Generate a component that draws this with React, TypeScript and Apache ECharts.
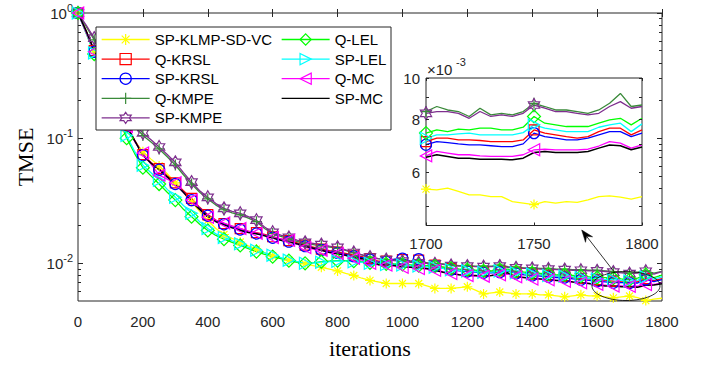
import React, { useEffect, useRef } from 'react';
import * as echarts from 'echarts';

// ---------- data ----------
const SERIES_NAMES = ['SP-KLMP-SD-VC', 'Q-KRSL', 'SP-KRSL', 'Q-KMPE', 'SP-KMPE', 'Q-LEL', 'SP-LEL', 'Q-MC', 'SP-MC'];
const SERIES_COLORS = ['#FFFF00', '#FF0000', '#0000FF', '#3A8A3A', '#7E2F8E', '#00FF00', '#00FFFF', '#FF00FF', '#000000'];

// main plot: iterations 0..1800 every 25
const MAIN_STEP = 25;
const mainSpKlmp = [1.0, 0.72, 0.5, 0.33, 0.23, 0.165, 0.12, 0.095, 0.078, 0.068,
  0.06, 0.052, 0.044, 0.037, 0.031, 0.026, 0.022, 0.019, 0.017, 0.0158,
  0.0148, 0.0138, 0.013, 0.0122, 0.0115, 0.011, 0.0106, 0.0103, 0.0099, 0.0096,
  0.0093, 0.009, 0.0087, 0.0083, 0.008, 0.0076, 0.0073, 0.0071, 0.0069, 0.0069,
  0.0069, 0.0069, 0.0069, 0.0066, 0.0063, 0.0063, 0.0063, 0.0064, 0.0065, 0.0061,
  0.0057, 0.0058, 0.0059, 0.0058, 0.0057, 0.0057, 0.0057, 0.0056, 0.0056, 0.0055,
  0.0054, 0.0055, 0.0056, 0.0055, 0.0055, 0.0054, 0.0053, 0.0054, 0.00548, 0.00531,
  0.00504, 0.00517, 0.00526];
const mainQKrsl = [1.0, 0.72, 0.5, 0.35, 0.245, 0.172, 0.126, 0.096, 0.074, 0.064,
  0.057, 0.05, 0.044, 0.038, 0.033, 0.028, 0.0245, 0.0222, 0.0208, 0.0198,
  0.0189, 0.0181, 0.0176, 0.017, 0.0163, 0.0157, 0.0152, 0.0146, 0.014, 0.0135,
  0.013, 0.0126, 0.0123, 0.012, 0.0116, 0.0113, 0.0109, 0.0104, 0.0104, 0.0107,
  0.0107, 0.0104, 0.0106, 0.0101, 0.0097, 0.0093, 0.0091, 0.0089, 0.0088, 0.0087,
  0.0086, 0.0086, 0.0087, 0.0089, 0.0085, 0.0083, 0.0082, 0.0081, 0.008, 0.0079,
  0.0079, 0.0077, 0.0076, 0.0075, 0.0074, 0.0073, 0.0072, 0.0071, 0.00709, 0.00713,
  0.00755, 0.00728, 0.00755];
const mainSpKrsl = [1.0, 0.71, 0.49, 0.345, 0.24, 0.17, 0.125, 0.095, 0.073, 0.063,
  0.056, 0.049, 0.043, 0.037, 0.032, 0.0275, 0.024, 0.0218, 0.0205, 0.0195,
  0.0186, 0.0178, 0.0173, 0.0167, 0.016, 0.0154, 0.0149, 0.0143, 0.0137, 0.0132,
  0.0128, 0.0124, 0.0121, 0.0118, 0.0114, 0.0111, 0.0107, 0.0102, 0.0103, 0.0108,
  0.0109, 0.0103, 0.0108, 0.01, 0.0095, 0.0091, 0.0089, 0.0087, 0.0086, 0.0085,
  0.0084, 0.0084, 0.0085, 0.0087, 0.0083, 0.0081, 0.008, 0.0079, 0.0078, 0.0077,
  0.0077, 0.0075, 0.0074, 0.0073, 0.0072, 0.0071, 0.007, 0.007, 0.00697, 0.00696,
  0.00742, 0.00715, 0.00742];
const mainQKmpe = [1.0, 0.78, 0.61, 0.44, 0.31, 0.22, 0.155, 0.125, 0.105, 0.093,
  0.082, 0.071, 0.061, 0.051, 0.043, 0.037, 0.0327, 0.0292, 0.0268, 0.0253,
  0.0244, 0.023, 0.0215, 0.019, 0.0173, 0.0164, 0.0157, 0.015, 0.0144, 0.0141,
  0.0138, 0.0135, 0.0132, 0.0127, 0.0121, 0.0117, 0.0112, 0.0109, 0.0107, 0.0106,
  0.0105, 0.0103, 0.0102, 0.0101, 0.01, 0.0099, 0.0097, 0.0096, 0.0096, 0.0095,
  0.0095, 0.0095, 0.0097, 0.0094, 0.0093, 0.0092, 0.0092, 0.0091, 0.0091, 0.009,
  0.009, 0.0089, 0.0089, 0.0088, 0.0088, 0.0087, 0.0086, 0.0085, 0.00834, 0.00849,
  0.00872, 0.00834, 0.00864];
const mainSpKmpe = [1.0, 0.8, 0.63, 0.45, 0.32, 0.23, 0.16, 0.13, 0.11, 0.097,
  0.085, 0.074, 0.064, 0.053, 0.0445, 0.038, 0.0337, 0.03, 0.0275, 0.026,
  0.0251, 0.0236, 0.0221, 0.0195, 0.0177, 0.0168, 0.0161, 0.0153, 0.0147, 0.0144,
  0.0141, 0.0137, 0.0134, 0.0128, 0.0122, 0.0117, 0.0112, 0.0109, 0.0107, 0.0105,
  0.0104, 0.0102, 0.0101, 0.01, 0.0099, 0.0098, 0.0096, 0.0095, 0.0095, 0.0094,
  0.0094, 0.0094, 0.0095, 0.0093, 0.0092, 0.0091, 0.0091, 0.009, 0.009, 0.0089,
  0.0089, 0.0088, 0.0088, 0.0087, 0.0087, 0.0086, 0.0085, 0.0084, 0.00826, 0.00834,
  0.00864, 0.00819, 0.00857];
const mainQLel = [1.0, 0.69, 0.47, 0.31, 0.21, 0.145, 0.1, 0.075, 0.058, 0.05,
  0.043, 0.037, 0.032, 0.027, 0.0236, 0.0205, 0.0183, 0.0167, 0.0156, 0.0147,
  0.0139, 0.0131, 0.0124, 0.0118, 0.0113, 0.0109, 0.0105, 0.0102, 0.01, 0.0101,
  0.0103, 0.0104, 0.0105, 0.0105, 0.0104, 0.0103, 0.0101, 0.01, 0.0099, 0.0099,
  0.0098, 0.0097, 0.0096, 0.0096, 0.0095, 0.0093, 0.0091, 0.009, 0.0089, 0.0088,
  0.0087, 0.0087, 0.0089, 0.009, 0.0086, 0.0085, 0.0084, 0.0083, 0.0082, 0.0081,
  0.0081, 0.008, 0.0079, 0.0078, 0.0077, 0.0077, 0.0076, 0.0075, 0.00742, 0.00762,
  0.00812, 0.00769, 0.00804];
const mainSpLel = [1.0, 0.7, 0.48, 0.32, 0.22, 0.15, 0.105, 0.078, 0.0608, 0.053,
  0.0461, 0.039, 0.0337, 0.029, 0.0251, 0.0215, 0.019, 0.0172, 0.0161, 0.0151,
  0.0143, 0.0134, 0.0127, 0.0121, 0.0116, 0.0111, 0.0106, 0.0103, 0.01, 0.0101,
  0.0102, 0.0103, 0.0104, 0.0104, 0.0103, 0.0102, 0.01, 0.0099, 0.0098, 0.0098,
  0.0097, 0.0096, 0.0095, 0.0094, 0.0093, 0.0091, 0.0089, 0.0088, 0.0087, 0.0086,
  0.0085, 0.0085, 0.0087, 0.0088, 0.0084, 0.0083, 0.0082, 0.0081, 0.008, 0.0079,
  0.0079, 0.0078, 0.0077, 0.0076, 0.0075, 0.0074, 0.0074, 0.0073, 0.00722, 0.00735,
  0.00776, 0.00748, 0.0078];
const mainQMc = [1.0, 0.7, 0.49, 0.34, 0.24, 0.17, 0.124, 0.094, 0.076, 0.062,
  0.0506, 0.047, 0.044, 0.037, 0.032, 0.027, 0.0233, 0.022, 0.021, 0.0198,
  0.019, 0.018, 0.0174, 0.0168, 0.0161, 0.0157, 0.0153, 0.0142, 0.0134, 0.013,
  0.0127, 0.0123, 0.012, 0.0115, 0.011, 0.0106, 0.01, 0.0097, 0.0097, 0.0095,
  0.0093, 0.0093, 0.0091, 0.009, 0.0088, 0.0086, 0.0083, 0.0081, 0.008, 0.0079,
  0.0079, 0.008, 0.0081, 0.0082, 0.0078, 0.0077, 0.0075, 0.0075, 0.0074, 0.0073,
  0.0072, 0.0071, 0.007, 0.0069, 0.0068, 0.0067, 0.0066, 0.0066, 0.00656, 0.00656,
  0.00678, 0.0068, 0.00696];
const mainSpMc = [1.0, 0.72, 0.5, 0.34, 0.24, 0.17, 0.125, 0.095, 0.073, 0.063,
  0.056, 0.049, 0.043, 0.037, 0.031, 0.027, 0.0235, 0.0215, 0.0203, 0.0192,
  0.0183, 0.0176, 0.0172, 0.0166, 0.0159, 0.0153, 0.0148, 0.0143, 0.0137, 0.0132,
  0.0127, 0.0122, 0.0119, 0.0116, 0.0112, 0.0109, 0.0104, 0.0098, 0.0097, 0.0096,
  0.0094, 0.0093, 0.0092, 0.0091, 0.0088, 0.0085, 0.0083, 0.0081, 0.008, 0.008,
  0.0079, 0.008, 0.0082, 0.0084, 0.0078, 0.0077, 0.0076, 0.0075, 0.0074, 0.0073,
  0.0073, 0.0071, 0.007, 0.0069, 0.0067, 0.0066, 0.0066, 0.0065, 0.0065, 0.00644,
  0.00668, 0.00672, 0.00688];

// inset: iterations 1700..1800 every 5
const INSET_START = 1700;
const INSET_STEP = 5;
const insetSpKlmp = [0.00548, 0.00546, 0.00551, 0.00541, 0.00531, 0.00531, 0.00526, 0.00526, 0.00512, 0.00508, 0.00504, 0.00512, 0.00508, 0.00512, 0.0051, 0.00517, 0.00526, 0.00528, 0.00525, 0.00519, 0.00526];
const insetQKrsl = [0.00709, 0.00722, 0.00722, 0.00715, 0.00715, 0.00713, 0.00709, 0.00709, 0.00709, 0.00715, 0.00755, 0.00742, 0.00735, 0.00728, 0.00722, 0.00728, 0.00748, 0.00762, 0.00762, 0.00735, 0.00755];
const insetSpKrsl = [0.00697, 0.00709, 0.00705, 0.007, 0.00696, 0.00696, 0.00693, 0.0069, 0.0069, 0.007, 0.00742, 0.00728, 0.00722, 0.00715, 0.00715, 0.00722, 0.00735, 0.00748, 0.00748, 0.00728, 0.00742];
const insetQKmpe = [0.00834, 0.00857, 0.00841, 0.00834, 0.00812, 0.00849, 0.00819, 0.00826, 0.00819, 0.00834, 0.00872, 0.00857, 0.00841, 0.00841, 0.00834, 0.00826, 0.00841, 0.00872, 0.0092, 0.00857, 0.00864];
const insetSpKmpe = [0.00826, 0.00834, 0.00834, 0.00826, 0.00804, 0.00834, 0.00812, 0.00819, 0.00812, 0.00826, 0.00864, 0.00849, 0.00834, 0.00834, 0.00826, 0.00819, 0.00826, 0.00857, 0.0088, 0.00849, 0.00857];
const insetQLel = [0.00742, 0.00755, 0.00748, 0.00758, 0.00755, 0.00762, 0.00762, 0.00755, 0.00755, 0.00766, 0.00812, 0.00783, 0.00776, 0.00769, 0.00769, 0.00769, 0.00783, 0.00797, 0.00804, 0.00776, 0.00804];
const insetSpLel = [0.00722, 0.00735, 0.00735, 0.00739, 0.00742, 0.00735, 0.00735, 0.00735, 0.00735, 0.00744, 0.00776, 0.00762, 0.00755, 0.00748, 0.00748, 0.00748, 0.00766, 0.00776, 0.00783, 0.00748, 0.0078];
const insetQMc = [0.00656, 0.00672, 0.00666, 0.0066, 0.0066, 0.00656, 0.00654, 0.00654, 0.00654, 0.0066, 0.00678, 0.0068, 0.00678, 0.00678, 0.00678, 0.0068, 0.00692, 0.00709, 0.00703, 0.00684, 0.00696];
const insetSpMc = [0.00651, 0.0066, 0.00654, 0.00648, 0.00648, 0.00644, 0.00644, 0.00644, 0.00642, 0.00648, 0.00668, 0.00672, 0.00668, 0.00668, 0.00668, 0.00672, 0.00684, 0.00696, 0.00693, 0.00678, 0.00688];

const MAIN_SERIES = [mainSpKlmp, mainQKrsl, mainSpKrsl, mainQKmpe, mainSpKmpe, mainQLel, mainSpLel, mainQMc, mainSpMc];
const INSET_SERIES = [insetSpKlmp, insetQKrsl, insetSpKrsl, insetQKmpe, insetSpKmpe, insetQLel, insetSpLel, insetQMc, insetSpMc];

// axis ticks
const MAIN_Y_MAJOR = [0.01, 0.1, 1];
const MAIN_Y_MINOR = [0.006, 0.007, 0.008, 0.009, 0.02, 0.03, 0.04, 0.05, 0.06, 0.07, 0.08, 0.09, 0.2, 0.3, 0.4, 0.5, 0.6, 0.7, 0.8, 0.9];
const MAIN_Y_MIN = 0.005;
const MAIN_Y_MAX = 1;
const INSET_Y_TICKS = [0.005, 0.006, 0.007, 0.008, 0.009, 0.01];
const INSET_Y_LABELS = [0.006, 0.008, 0.01];
const INSET_Y_MIN = 0.0045;
const INSET_Y_MAX = 0.01;

// ---------- style ----------
const SANS = "'Liberation Sans', Arial, Helvetica, sans-serif";
const SERIF = "'Liberation Serif', 'Times New Roman', serif";
const AX = '#262626';
const HEXAGRAM = 'path://M0,-1L0.2887,-0.5L0.866,-0.5L0.577,0L0.866,0.5L0.2887,0.5L0,1L-0.2887,0.5L-0.866,0.5L-0.577,0L-0.866,-0.5L-0.2887,-0.5Z';
const SYMBOLS = [
  'path://M0,-1L0,1M-1,0L1,0M-0.7,-0.7L0.7,0.7M-0.7,0.7L0.7,-0.7',
  'rect',
  'circle',
  'path://M0,-1L0,1M-1,0L1,0',
  HEXAGRAM,
  'diamond',
  'path://M-0.9,-1L1,0L-0.9,1Z',
  'path://M0.9,-1L-1,0L0.9,1Z',
  'circle',
];
const SYMBOL_SIZES = [10, 10, 11, 11, 13, 13, 12, 12, 0];

const log10 = (v: number) => Math.log10(v);

function buildData(vals: number[], start: number, step: number, lastX: number) {
  return vals.map((v, i) => {
    const x = start + i * step;
    const marker = (x - start) % 50 === 0 && x < lastX;
    return marker ? { value: [x, v] } : { value: [x, v], symbol: 'none' };
  });
}

export default function App() {
  const ref = useRef<HTMLDivElement>(null);
  useEffect(() => {
    if (!ref.current) return;
    const chart = echarts.init(ref.current, undefined, { renderer: 'svg' });

    const mkSeries = (idx: number, inset: boolean) => {
      const color = SERIES_COLORS[idx];
      const isPlain = idx === 8;
      const data = inset
        ? buildData(INSET_SERIES[idx], INSET_START, INSET_STEP, 1800)
        : buildData(MAIN_SERIES[idx], 0, MAIN_STEP, 1800);
      return {
        name: SERIES_NAMES[idx],
        type: 'line',
        xAxisIndex: inset ? 2 : 0,
        yAxisIndex: inset ? 5 : 0,
        data,
        symbol: SYMBOLS[idx],
        symbolSize: SYMBOL_SIZES[idx],
        symbolKeepAspect: true,
        showSymbol: !isPlain,
        showAllSymbol: true,
        lineStyle: { color, width: isPlain ? 1.5 : 1.3 },
        itemStyle: {
          color: 'rgba(0,0,0,0)',
          borderColor: isPlain ? 'rgba(0,0,0,0)' : color,
          borderWidth: 1.2,
        },
        emphasis: { disabled: true },
        silent: true,
        z: inset ? 8 : 2,
        clip: true,
      };
    };

    const series: any[] = [];
    for (let i = 0; i < 9; i++) series.push(mkSeries(i, false));
    for (let i = 0; i < 9; i++) series.push(mkSeries(i, true));

    const tickLabel = { fontFamily: SANS, fontSize: 15, color: AX };
    const plainNum = (v: number) => String(v);

    const option: any = {
      animation: false,
      backgroundColor: '#fff',
      grid: [
        { left: 78, top: 13, width: 584, height: 288, show: true, borderColor: AX, borderWidth: 1, backgroundColor: 'rgba(0,0,0,0)' },
        { left: 426, top: 78, width: 216, height: 147.5, show: true, borderColor: AX, borderWidth: 1, backgroundColor: '#fff', z: 6 },
      ],
      xAxis: [
        {
          type: 'value', gridIndex: 0, position: 'bottom', min: 0, max: 1800, interval: 200,
          axisLine: { show: false }, splitLine: { show: false },
          axisTick: { show: true, inside: true, length: 4, lineStyle: { color: AX } },
          axisLabel: { ...tickLabel, margin: 13, showMinLabel: true, showMaxLabel: true, formatter: plainNum },
        },
        {
          type: 'value', gridIndex: 0, position: 'top', min: 0, max: 1800, interval: 200,
          axisLine: { show: false }, splitLine: { show: false },
          axisTick: { show: true, inside: true, length: 4, lineStyle: { color: AX } },
          axisLabel: { show: false },
        },
        {
          type: 'value', gridIndex: 1, position: 'bottom', min: 1700, max: 1800, interval: 50,
          axisLine: { show: false }, splitLine: { show: false },
          axisTick: { show: true, inside: true, length: 3, lineStyle: { color: AX } },
          axisLabel: { ...tickLabel, margin: 10, showMinLabel: true, showMaxLabel: true, formatter: plainNum },
          z: 9,
        },
        {
          type: 'value', gridIndex: 1, position: 'top', min: 1700, max: 1800, interval: 50,
          axisLine: { show: false }, splitLine: { show: false },
          axisTick: { show: true, inside: true, length: 3, lineStyle: { color: AX } },
          axisLabel: { show: false },
          z: 9,
        },
      ],
      yAxis: [
        // 0: main data axis (log)
        { type: 'log', gridIndex: 0, logBase: 10, min: MAIN_Y_MIN, max: MAIN_Y_MAX, show: false, splitLine: { show: false } },
        // 1: left major ticks + labels (log10 space)
        {
          type: 'value', gridIndex: 0, position: 'left', min: log10(MAIN_Y_MIN), max: log10(MAIN_Y_MAX),
          axisLine: { show: false }, splitLine: { show: false },
          axisTick: { show: true, inside: true, length: 5, customValues: MAIN_Y_MAJOR.map(log10), lineStyle: { color: AX } },
          axisLabel: {
            customValues: MAIN_Y_MAJOR.map(log10), margin: 5,
            formatter: (v: number) => `{b|10}{s|${Math.round(v)}}`,
            rich: {
              b: { fontFamily: SANS, fontSize: 15, color: AX },
              s: { fontFamily: SANS, fontSize: 11, color: AX, padding: [0, 0, 10, 0] },
            },
          },
        },
        // 2: left minor ticks
        {
          type: 'value', gridIndex: 0, position: 'left', min: log10(MAIN_Y_MIN), max: log10(MAIN_Y_MAX),
          axisLine: { show: false }, splitLine: { show: false }, axisLabel: { show: false },
          axisTick: { show: true, inside: true, length: 3, customValues: MAIN_Y_MINOR.map(log10), lineStyle: { color: AX } },
        },
        // 3: right major ticks
        {
          type: 'value', gridIndex: 0, position: 'right', min: log10(MAIN_Y_MIN), max: log10(MAIN_Y_MAX),
          axisLine: { show: false }, splitLine: { show: false }, axisLabel: { show: false },
          axisTick: { show: true, inside: true, length: 5, customValues: MAIN_Y_MAJOR.map(log10), lineStyle: { color: AX } },
        },
        // 4: right minor ticks
        {
          type: 'value', gridIndex: 0, position: 'right', min: log10(MAIN_Y_MIN), max: log10(MAIN_Y_MAX),
          axisLine: { show: false }, splitLine: { show: false }, axisLabel: { show: false },
          axisTick: { show: true, inside: true, length: 3, customValues: MAIN_Y_MINOR.map(log10), lineStyle: { color: AX } },
        },
        // 5: inset data axis (log)
        { type: 'log', gridIndex: 1, logBase: 10, min: INSET_Y_MIN, max: INSET_Y_MAX, show: false, splitLine: { show: false } },
        // 6: inset left ticks + labels
        {
          type: 'value', gridIndex: 1, position: 'left', min: log10(INSET_Y_MIN), max: log10(INSET_Y_MAX),
          axisLine: { show: false }, splitLine: { show: false },
          axisTick: { show: true, inside: true, length: 3, customValues: INSET_Y_TICKS.map(log10), lineStyle: { color: AX } },
          axisLabel: {
            ...tickLabel, margin: 6, customValues: INSET_Y_LABELS.map(log10),
            formatter: (v: number) => String(Math.round(Math.pow(10, v) * 1000)),
          },
          z: 9,
        },
        // 7: inset right ticks
        {
          type: 'value', gridIndex: 1, position: 'right', min: log10(INSET_Y_MIN), max: log10(INSET_Y_MAX),
          axisLine: { show: false }, splitLine: { show: false }, axisLabel: { show: false },
          axisTick: { show: true, inside: true, length: 3, customValues: INSET_Y_TICKS.map(log10), lineStyle: { color: AX } },
          z: 9,
        },
      ],
      legend: [
        {
          data: SERIES_NAMES.slice(0, 5), orient: 'vertical', left: 101, top: 32, padding: 0,
          itemWidth: 48, itemHeight: 14, itemGap: 4.6, selectedMode: false, z: 5,
          textStyle: { fontFamily: SANS, fontSize: 15, color: '#000' },
          itemStyle: { borderWidth: 1.2 }, lineStyle: { width: 1.3 },
        },
        {
          data: SERIES_NAMES.slice(5), orient: 'vertical', left: 281, top: 32, padding: 0,
          itemWidth: 48, itemHeight: 14, itemGap: 4.6, selectedMode: false, z: 5,
          textStyle: { fontFamily: SANS, fontSize: 15, color: '#000' },
          itemStyle: { borderWidth: 1.2 }, lineStyle: { width: 1.3 },
        },
      ],
      graphic: [
        { type: 'rect', z: 3, shape: { x: 96, y: 27, width: 295, height: 103 }, style: { fill: '#fff', stroke: AX, lineWidth: 1 } },
        { type: 'ellipse', z: 10, shape: { cx: 626, cy: 286, rx: 34, ry: 14.5 }, style: { fill: 'none', stroke: '#000', lineWidth: 0.8 } },
        { type: 'line', z: 10, shape: { x1: 615, y1: 273, x2: 586.6, y2: 236.3 }, style: { stroke: '#000', lineWidth: 0.8 } },
        { type: 'polygon', z: 10, shape: { points: [[581.7, 230], [592.6, 236.8], [586.6, 236.3], [585.5, 242.3]] }, style: { fill: '#000', stroke: '#000', lineWidth: 0.5 } },
        { type: 'text', z: 10, x: 427, y: 69, style: { text: '×10', fontFamily: SANS, fontSize: 15, fill: AX, align: 'left', verticalAlign: 'middle' } },
        { type: 'text', z: 10, x: 456, y: 62, style: { text: '-3', fontFamily: SANS, fontSize: 11, fill: AX, align: 'left', verticalAlign: 'middle' } },
        { type: 'text', z: 10, x: 25, y: 157, rotation: Math.PI / 2, style: { text: 'TMSE', fontFamily: SERIF, fontSize: 22, fill: '#000', align: 'center', verticalAlign: 'middle' } },
        { type: 'text', z: 10, x: 370, y: 348, style: { text: 'iterations', fontFamily: SERIF, fontSize: 22, fill: '#000', align: 'center', verticalAlign: 'middle' } },
      ],
      series,
    };
    chart.setOption(option);
    return () => chart.dispose();
  }, []);

  return <div ref={ref} style={{ position: 'fixed', left: 0, top: 0, width: 706, height: 365, background: '#fff' }} />;
}
